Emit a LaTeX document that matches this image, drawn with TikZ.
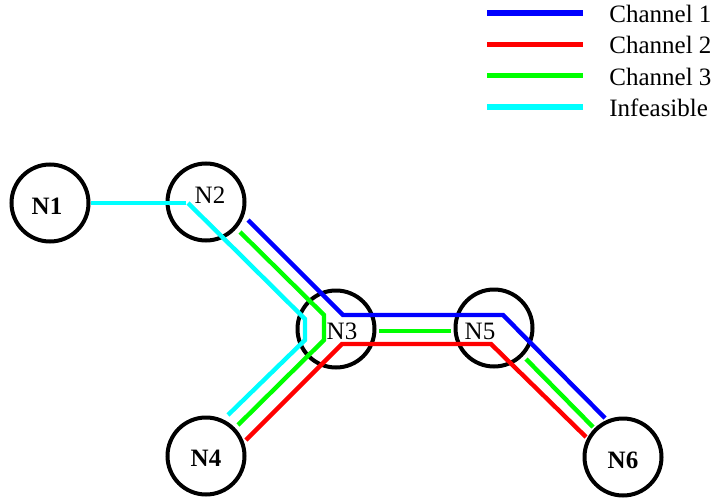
\documentclass[tikz,border=0pt]{standalone}
\usepackage{fontspec}
\setmainfont{Liberation Serif}
\usetikzlibrary{calc}

\definecolor{aqua}{RGB}{0,255,255}
\definecolor{lime}{RGB}{0,255,0}

\begin{document}
\begin{tikzpicture}[x=0.5pt,y=-0.5pt,
    router/.style={circle, draw, line width=2pt, minimum size=38.5pt, inner sep=0pt},
    tag/.style={font=\fontsize{12.5}{14}\selectfont},
    boldtag/.style={font=\fontsize{12.5}{14}\selectfont\bfseries},
    link/.style={line width=2.2pt},
    key/.style={line width=2.8pt},
    keytext/.style={anchor=west, inner sep=0pt, font=\fontsize{12.5}{14}\selectfont}]

    \useasboundingbox (0,0) rectangle (717,498);

    % nodes
    \node[router, label={[name=N1-t, boldtag, xshift=-1.5pt, yshift=-1.5pt]center:N1}] (N1) at (50,203) {};
    \node[router, label={[name=N2-t, tag, xshift=2pt, yshift=3.5pt]center:N2}] (N2) at (206,202) {};
    \node[router, label={[name=N3-t, tag, xshift=3pt, yshift=-1pt]center:N3}] (N3) at (336,329) {};
    \node[router, label={[name=N5-t, tag, xshift=-7pt, yshift=-1.5pt]center:N5}] (N5) at (494,328) {};
    \node[router, label={[name=N4-t, boldtag, yshift=-1pt]center:N4}] (N4) at (206,456) {};
    \node[router, label={[name=N6-t, boldtag, yshift=-1.5pt]center:N6}] (N6) at (623,457) {};

    % infeasible route
    \draw[link, aqua] (N1.east) -- ($(N2)+(-20,1)$);
    \draw[link, aqua] ($(N2)+(-18,1)$) -- ($(N3)+(-31,-10)$) -- ($(N3)+(-31,11)$) -- ($(N4)+(22,-41)$);

    % channel 3
    \draw[link, lime] ($(N2)+(34,30)$) -- ($(N3)+(-12,-14)$) -- ($(N3)+(-12,11)$) -- ($(N4)+(32,-31)$);
    \draw[link, lime] ($(N3)+(43,2)$) -- ($(N5)+(-43,3)$);
    \draw[link, lime] ($(N5)+(32,31)$) -- ($(N6)+(-30,-30)$);

    % channel 1
    \draw[link, blue] ($(N2)+(42,18)$) -- ($(N3)+(7,-14)$) -- ($(N5)+(9,-13)$) -- ($(N6)+(-18,-39)$);

    % channel 2
    \draw[link, red] ($(N4)+(40,-16)$) -- ($(N3)+(6,15)$) -- ($(N5)+(-3,16)$) -- ($(N6)+(-37,-20)$);

    % legend
    \foreach \col/\txt [count=\i] in {blue/Channel 1,red/Channel 2,lime/Channel 3,aqua/Infeasible} {
        \node[keytext] (key\i) at (609,{14+31.3*(\i-1)}) {\txt};
        \draw[key, \col] ($(key\i.west)+(-122,-1)$) -- ($(key\i.west)+(-26,-1)$);
    }
\end{tikzpicture}
\end{document}
